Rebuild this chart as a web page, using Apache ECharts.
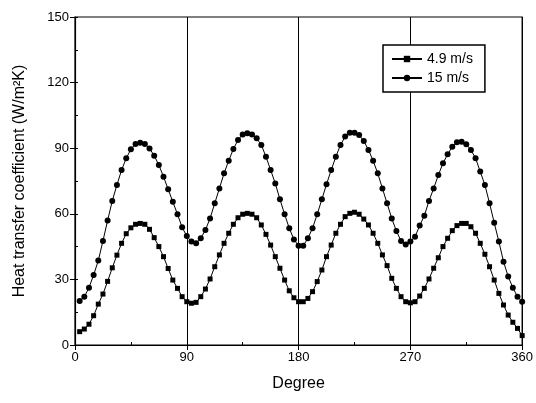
<!DOCTYPE html>
<html><head><meta charset="utf-8">
<script src="https://cdn.jsdelivr.net/npm/echarts@6/dist/echarts.min.js"></script>
<style>html,body{margin:0;padding:0;background:#fff}#c{width:536px;height:403px}</style>
</head><body><div id="c"></div>
<script>
// x positions: every 3.75 degrees from 3.75 to 360
const degrees = [];
for (let k = 1; k <= 96; k++) degrees.push(+(k * 3.75).toFixed(2));

const v49 = [
  6.1, 7.3, 9.5, 13.4, 18.7, 23.3, 29.1, 35.3, 41.1, 46.5, 50.9, 53.6, 55.2, 55.6, 55.2, 52.9, 49.1, 45, 40.4, 35, 29.7, 25.9, 22.1, 19.8,
  19.1, 19.5, 22.1, 25.6, 30.2, 35.8, 41.2, 46.5, 51.1, 55.2, 58.2, 59.8, 60.2, 59.8, 58.2, 54.9, 50.6, 45.7, 40.4, 35.1, 29.7, 24.8, 21.6, 19.8,
  19.8, 21.3, 24.4, 29, 34.3, 40.4, 45.7, 51.1, 55.2, 58.7, 60.2, 60.7, 59.8, 57.6, 54.9, 51.1, 46.5, 41.2, 36.3, 30.5, 25.9, 22.1, 19.8, 19.3,
  19.8, 22.4, 25.9, 30.2, 35.1, 39.9, 45, 48.8, 52.3, 54.6, 55.6, 55.6, 54.1, 51.1, 46.5, 41.5, 35.8, 29.7, 23.6, 18.3, 13.7, 10.4, 7.6, 4.3
];
const v15 = [
  20.1, 22.1, 26.2, 32, 38.6, 47.6, 56.9, 65.9, 73.2, 80, 85.4, 89.5, 91.9, 92.5, 91.9, 89.9, 86.6, 82.3, 77, 71.2, 65.5, 59.8, 53.8, 49.8,
  47.3, 46.5, 48.8, 52.6, 57.9, 64.8, 71.6, 78.5, 84.3, 89.6, 93.8, 96.3, 96.8, 96.3, 94.5, 91.5, 86.1, 80, 73.9, 66.6, 59.8, 53.4, 48.3, 45.4,
  45.4, 48.8, 53.4, 59.8, 66.6, 73.5, 80, 86.1, 91.5, 95.3, 97.1, 97.1, 96, 93.3, 89.2, 84.3, 78.5, 71.6, 64.8, 57.9, 52.1, 47.6, 46, 47.3,
  49.5, 54.6, 59.1, 65.9, 71.6, 77.7, 83.1, 87.2, 90.7, 92.7, 93, 91.8, 89.2, 85.4, 79.3, 73.2, 64.8, 55.9, 47.3, 38.1, 31.3, 26.2, 22.1, 19.8
];
const seriesNames = ['4.9 m/s', '15 m/s'];
const xTicks = [0, 90, 180, 270, 360];
const yTicks = [0, 30, 60, 90, 120, 150];

const font = '"Liberation Sans", Arial, sans-serif';
const chart = echarts.init(document.getElementById('c'));
const pair = (vals) => degrees.map((d, i) => [d, vals[i]]);
chart.setOption({
  animation: false,
  backgroundColor: '#fff',
  grid: {left: 75, right: 11, top: 17, bottom: 58, show: true, borderColor: '#000', borderWidth: 1.2, backgroundColor: 'transparent'},
  legend: {
    left: 383, top: 45, orient: 'vertical', itemGap: 5, itemWidth: 30, itemHeight: 8,
    padding: [7, 12, 7, 8], borderColor: '#000', borderWidth: 1.5, backgroundColor: '#fff',
    textStyle: {fontFamily: font, fontSize: 14, color: '#000'},
    data: seriesNames
  },
  xAxis: [{
    type: 'value', min: 0, max: 360, interval: 90,
    name: 'Degree', nameLocation: 'middle', nameGap: 31,
    nameTextStyle: {fontFamily: font, fontSize: 16, color: '#000'},
    axisLine: {lineStyle: {color: '#000', width: 1.2}},
    axisTick: {length: 5, lineStyle: {color: '#000'}},
    axisLabel: {fontFamily: font, fontSize: 13, color: '#000', margin: 6,
      formatter: (v) => xTicks.includes(v) ? String(v) : ''},
    splitLine: {show: true, lineStyle: {color: '#000', width: 1}}
  }, {
    type: 'value', min: 0, max: 360, interval: 45, position: 'bottom',
    axisLine: {show: false}, axisLabel: {show: false}, splitLine: {show: false},
    axisTick: {inside: true, length: 3, lineStyle: {color: '#000'}}
  }],
  yAxis: [{
    type: 'value', min: 0, max: 150, interval: 30,
    name: 'Heat transfer coefficient (W/m\u00b2K)', nameLocation: 'middle', nameGap: 47,
    nameTextStyle: {fontFamily: font, fontSize: 16, color: '#000'},
    axisLine: {lineStyle: {color: '#000', width: 1.2}},
    axisTick: {length: 5, lineStyle: {color: '#000'}},
    axisLabel: {fontFamily: font, fontSize: 13, color: '#000', margin: 6,
      formatter: (v) => yTicks.includes(v) ? String(v) : ''},
    splitLine: {show: false}
  }, {
    type: 'value', min: 0, max: 150, interval: 15, position: 'left',
    axisLine: {show: false}, axisLabel: {show: false}, splitLine: {show: false},
    axisTick: {inside: true, length: 3, lineStyle: {color: '#000'}}
  }],
  series: [{
    name: seriesNames[0], type: 'line', data: pair(v49),
    symbol: 'rect', symbolSize: 5, lineStyle: {color: '#000', width: 1},
    itemStyle: {color: '#000'}
  }, {
    name: seriesNames[1], type: 'line', data: pair(v15),
    symbol: 'circle', symbolSize: 6, lineStyle: {color: '#000', width: 1},
    itemStyle: {color: '#000'}
  }]
});
</script></body></html>
